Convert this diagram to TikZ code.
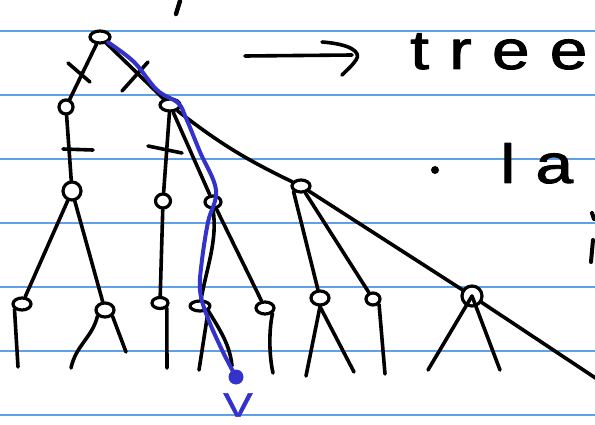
\documentclass[tikz,border=0pt]{standalone}
\usepackage{fontspec}
\setmainfont{Liberation Sans}
\newfontfamily\handfont[LetterSpace=30,FakeBold=1.6]{Liberation Sans}
\newfontfamily\vfont[FakeBold=1.2]{Liberation Sans}
\usetikzlibrary{shapes.geometric}
\definecolor{ruleblue}{RGB}{96,160,230}
\definecolor{pathblue}{RGB}{51,51,204}
\begin{document}
\begin{tikzpicture}[x=1pt,y=-1pt,line cap=round,line join=round,
  ruled/.style={draw=ruleblue,line width=1.5pt},
  ink/.style={draw=black,line width=3.6pt},
  vx/.style={ellipse,draw=black,line width=3.2pt,inner sep=0pt,minimum width=#1,minimum height=12pt},
  vx/.default=16pt,
  walk/.style={draw=pathblue,line width=4pt},
  hand/.style={font=\handfont\fontsize{50}{50}\selectfont,inner sep=0pt,anchor=base west,xscale=1.35,yscale=1.1}]
\useasboundingbox (0,0) rectangle (595,425);
\fill[white] (0,0) rectangle (595,425);
\foreach \yy in {31,95,159,223,287,351,415} \draw[ruled] (0,\yy) -- (595,\yy);

% fragments of writing cut by the frame
\draw[ink,line width=4.4pt] (180,1) -- (176,14);
\draw[ink,line width=4pt] (592,213) -- (594,219);
\draw[ink,line width=4pt] (593,240) -- (591,262);

% heading arrow and words
\node[hand] (tree) at (410,69) {tree};
\coordinate (arrs) at (245,56);
\coordinate (arre) at (352,55);
\draw[ink] (arrs) -- (arre);
\draw[ink] (322,42) .. controls (350,44) and (362,52) .. (356,60) .. controls (352,66) and (347,70) .. (342,75);
\node[circle,fill=black,minimum size=8pt,inner sep=0pt] (bul) at (435,170) {};
\node[hand] (la) at (500,183) {la};

% vertices
\node[vx=20pt] (r) at (100,37) {};
\node[vx=14pt,minimum height=14pt] (a) at (66,107) {};
\node[vx=20pt] (b) at (170,105) {};
\node[vx=18pt,minimum height=18pt] (c) at (72,191) {};
\node[vx=15pt,minimum height=14pt] (d) at (163,201) {};
\node[vx=16pt] (e) at (213,202) {};
\node[vx=18pt] (f) at (301,186) {};
\node[vx=18pt] (l1) at (22,304) {};
\node[vx=18pt,minimum height=14pt] (l2) at (105,310) {};
\node[vx=16pt,minimum height=11pt] (l3) at (160,303) {};
\node[vx=20pt,minimum height=10pt] (l4) at (200,306) {};
\node[vx=18pt] (l5) at (265,308) {};
\node[vx=18pt,minimum height=14pt] (l6) at (320,298) {};
\node[vx=14pt] (l7) at (373,299) {};
\node[vx=20pt,minimum height=20pt] (l8) at (472,296) {};

% tree edges
\draw[ink] (r) -- (a);
\draw[ink] (r) -- (b);
\draw[ink] (a) -- (c);
\draw[ink] (b) -- (d);
\draw[ink] (b) -- (e);
\draw[ink] (b) to[bend right=6] (f);
\draw[ink] (c) -- (l1);
\draw[ink] (c) -- (l2);
\draw[ink] (d) -- (l3);
\draw[ink] (e.south) .. controls (218,240) and (206,270) .. (l4);
\draw[ink] (e) -- (l5);
\draw[ink] (f.south west) -- (l6);
\draw[ink] (f) -- (l7);
\draw[ink] (f) -- (l8);
\coordinate (l8r) at (600,381);
\draw[ink] (l8) -- (l8r);

% ticks on edges
\draw[ink] (68,63) -- (90,82);
\draw[ink] (122,91) -- (148,62);
\draw[ink] (63,149) -- (93,150);
\draw[ink] (148,146) -- (182,153);

% edges below the leaves
\coordinate (k1) at (18,367);
\coordinate (k2a) at (71,368);
\coordinate (k2b) at (126,352);
\coordinate (k3) at (167,368);
\coordinate (k4a) at (199,370);
\coordinate (k4b) at (232,366);
\coordinate (k5) at (273,373);
\coordinate (k6a) at (306,376);
\coordinate (k6b) at (354,372);
\coordinate (k7) at (385,374);
\coordinate (k8a) at (428,370);
\coordinate (k8b) at (500,370);
\draw[ink] (l1.south west) -- (k1);
\draw[ink] (l2.south west) .. controls (92,338) and (76,345) .. (k2a);
\draw[ink] (l2.south east) -- (k2b);
\draw[ink] (l3.south east) -- (k3);
\draw[ink] (l4.south east) -- (k4a);
\draw[ink] (l4.south east) .. controls (220,330) and (230,345) .. (k4b);
\draw[ink] (l5.south east) .. controls (268,335) and (270,360) .. (k5);
\draw[ink] (l6.south) -- (k6a);
\draw[ink] (l6.south) -- (k6b);
\draw[ink] (l7.south east) -- (k7);
\draw[ink] (l8.center) -- (k8a);
\draw[ink] (l8.center) -- (k8b);

% highlighted walk to v
\node[circle,fill=pathblue,minimum size=15pt,inner sep=0pt] (v) at (236,377) {};
\draw[walk] plot[smooth,tension=0.6] coordinates {(r.south east) (134,62) (157,90) (178,103) (186,118) (200,152) (216,190) (208,222) (202,260) (200,290) (207,316) (222,350) (v)};
\node[text=pathblue,font=\vfont\fontsize{34}{34}\selectfont,inner sep=0pt,xscale=1.3] (vl) at (238,405) {V};
\end{tikzpicture}
\end{document}
